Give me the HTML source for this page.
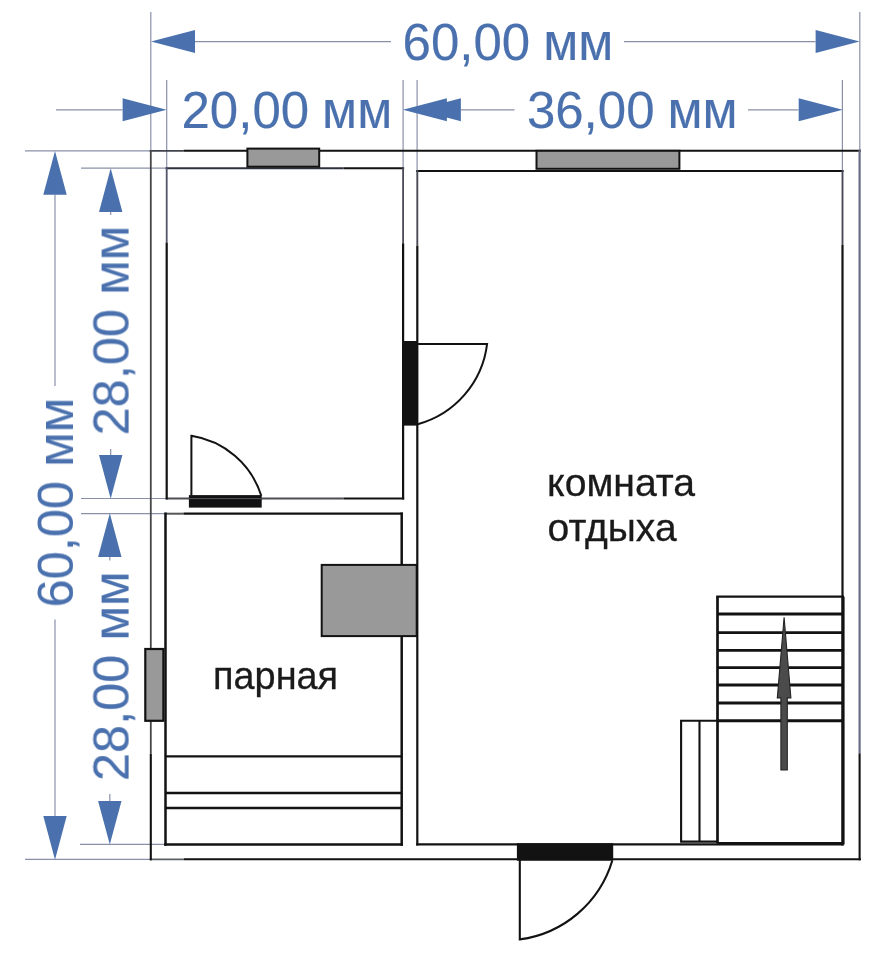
<!DOCTYPE html>
<html lang="ru">
<head>
<meta charset="utf-8">
<title>План бани</title>
<style>
html,body{margin:0;padding:0;background:#ffffff;}
body{width:884px;height:964px;overflow:hidden;}
svg{display:block;font-family:"Liberation Sans",sans-serif;}
text{will-change:transform;}
</style>
</head>
<body>
<svg width="884" height="964" viewBox="0 0 884 964">
<rect x="0" y="0" width="884" height="964" fill="#ffffff"/>
<!-- extension lines -->
<g>
<line x1="150.8" y1="12" x2="150.8" y2="150.8" stroke="#8a90aa" stroke-width="1.2"/>
<line x1="166.7" y1="80" x2="166.7" y2="168.2" stroke="#8a90aa" stroke-width="1.2"/>
<line x1="403.1" y1="80" x2="403.1" y2="168.2" stroke="#8a90aa" stroke-width="1.2"/>
<line x1="417.1" y1="80" x2="417.1" y2="171" stroke="#8a90aa" stroke-width="1.2"/>
<line x1="842.4" y1="80" x2="842.4" y2="171" stroke="#8a90aa" stroke-width="1.2"/>
<line x1="859.8" y1="12" x2="859.8" y2="150.8" stroke="#8a90aa" stroke-width="1.2"/>
<line x1="25" y1="150.8" x2="150.6" y2="150.8" stroke="#8a90aa" stroke-width="1.2"/>
<line x1="81" y1="168.2" x2="166.7" y2="168.2" stroke="#8a90aa" stroke-width="1.2"/>
<line x1="81" y1="498.5" x2="166.7" y2="498.5" stroke="#8a90aa" stroke-width="1.2"/>
<line x1="81" y1="513.7" x2="165.5" y2="513.7" stroke="#8a90aa" stroke-width="1.2"/>
<line x1="80" y1="844.3" x2="165.5" y2="844.3" stroke="#8a90aa" stroke-width="1.2"/>
<line x1="25" y1="859.3" x2="150.6" y2="859.3" stroke="#8a90aa" stroke-width="1.2"/>
</g>
<!-- dimension lines and arrows -->
<g>
<line x1="195" y1="41.55" x2="391" y2="41.55" stroke="#8a90aa" stroke-width="1.2"/>
<line x1="624" y1="41.55" x2="815.5" y2="41.55" stroke="#8a90aa" stroke-width="1.2"/>
<polygon points="151,41.55 195,30 195,53.1" fill="#4a71ae"/>
<polygon points="859.6,41.55 815.6,30 815.6,53.1" fill="#4a71ae"/>
<line x1="56" y1="109.8" x2="122.5" y2="109.8" stroke="#8a90aa" stroke-width="1.2"/>
<polygon points="166.6,109.8 122.6,98.25 122.6,121.35" fill="#4a71ae"/>
<polygon points="402.9,109.8 446.9,98.25 446.9,121.35" fill="#4a71ae"/>
<line x1="461" y1="109.8" x2="514.5" y2="109.8" stroke="#8a90aa" stroke-width="1.2"/>
<line x1="748" y1="109.8" x2="798.5" y2="109.8" stroke="#8a90aa" stroke-width="1.2"/>
<polygon points="416.9,109.8 460.9,98.25 460.9,121.35" fill="#4a71ae"/>
<polygon points="842.7,109.8 798.7,98.25 798.7,121.35" fill="#4a71ae"/>
<line x1="55" y1="194.5" x2="55" y2="386" stroke="#8a90aa" stroke-width="1.2"/>
<line x1="55" y1="619.5" x2="55" y2="816" stroke="#8a90aa" stroke-width="1.2"/>
<polygon points="55,151.1 43.3,194.8 66.7,194.8" fill="#4a71ae"/>
<polygon points="55,859.7 43.3,816 66.7,816" fill="#4a71ae"/>
<line x1="110.7" y1="211.7" x2="110.7" y2="215" stroke="#8a90aa" stroke-width="1.2"/>
<line x1="110.7" y1="449" x2="110.7" y2="456" stroke="#8a90aa" stroke-width="1.2"/>
<polygon points="110.7,168.2 99,211.9 122.4,211.9" fill="#4a71ae"/>
<polygon points="110.7,498.8 99,455.1 122.4,455.1" fill="#4a71ae"/>
<line x1="109.8" y1="557" x2="109.8" y2="560.5" stroke="#8a90aa" stroke-width="1.2"/>
<line x1="109.8" y1="794" x2="109.8" y2="801" stroke="#8a90aa" stroke-width="1.2"/>
<polygon points="109.8,513.3 98.1,557 121.5,557" fill="#4a71ae"/>
<polygon points="109.8,844.6 98.1,800.9 121.5,800.9" fill="#4a71ae"/>
</g>
<!-- walls and benches -->
<g>
<line x1="149.7" y1="150.8" x2="183.5" y2="150.8" stroke="#40424c" stroke-width="1.8"/>
<line x1="183.5" y1="150.8" x2="860.85" y2="150.8" stroke="#121212" stroke-width="2.1"/>
<line x1="149.7" y1="859.3" x2="184" y2="859.3" stroke="#5c6068" stroke-width="1.8"/>
<line x1="184" y1="859.3" x2="860.85" y2="859.3" stroke="#121212" stroke-width="2.1"/>
<line x1="150.8" y1="149.9" x2="150.8" y2="753.8" stroke="#474749" stroke-width="1.8"/>
<line x1="150.8" y1="753.8" x2="150.8" y2="860.35" stroke="#121212" stroke-width="2.1"/>
<line x1="859.6" y1="149.7" x2="859.6" y2="753.3" stroke="#666c86" stroke-width="2.2"/>
<line x1="859.6" y1="753.3" x2="859.6" y2="860.35" stroke="#121212" stroke-width="2.1"/>
<line x1="165.7" y1="168.2" x2="343.6" y2="168.2" stroke="#2e3040" stroke-width="2.0"/>
<line x1="343.6" y1="168.2" x2="404.15" y2="168.2" stroke="#121212" stroke-width="2.1"/>
<line x1="165.8" y1="498.5" x2="343.6" y2="498.5" stroke="#4c4c52" stroke-width="1.8"/>
<line x1="343.6" y1="498.5" x2="404.15" y2="498.5" stroke="#121212" stroke-width="2.1"/>
<line x1="166.7" y1="167.3" x2="166.7" y2="242.5" stroke="#52546a" stroke-width="1.8"/>
<line x1="166.7" y1="242.5" x2="166.7" y2="499.6" stroke="#121212" stroke-width="2.2"/>
<line x1="403.1" y1="167.3" x2="403.1" y2="243.3" stroke="#4a4b55" stroke-width="1.8"/>
<line x1="403.1" y1="243.3" x2="403.1" y2="499.6" stroke="#121212" stroke-width="2.2"/>
<line x1="164.5" y1="513.7" x2="183.5" y2="513.7" stroke="#565659" stroke-width="2.0"/>
<line x1="183.5" y1="513.7" x2="402.85" y2="513.7" stroke="#121212" stroke-width="2.3"/>
<line x1="164.2" y1="844.5" x2="403" y2="844.5" stroke="#121212" stroke-width="2.6"/>
<line x1="165.5" y1="512.45" x2="165.5" y2="845.75" stroke="#121212" stroke-width="2.5"/>
<line x1="401.7" y1="512.45" x2="401.7" y2="845.75" stroke="#121212" stroke-width="2.5"/>
<line x1="165.5" y1="756.3" x2="401.7" y2="756.3" stroke="#121212" stroke-width="2.3"/>
<line x1="165.5" y1="793" x2="401.7" y2="793" stroke="#121212" stroke-width="2.3"/>
<line x1="165.5" y1="808" x2="401.7" y2="808" stroke="#121212" stroke-width="2.3"/>
<line x1="416.2" y1="171" x2="843.6" y2="171" stroke="#121212" stroke-width="2.2"/>
<line x1="416.2" y1="844.3" x2="843.6" y2="844.3" stroke="#121212" stroke-width="2.2"/>
<line x1="417.3" y1="170.05" x2="417.3" y2="245.8" stroke="#4a4b55" stroke-width="1.9"/>
<line x1="417.3" y1="245.8" x2="417.3" y2="845.4" stroke="#121212" stroke-width="2.2"/>
<line x1="842.5" y1="170.05" x2="842.5" y2="245" stroke="#4a4b58" stroke-width="1.9"/>
<line x1="842.5" y1="245" x2="842.5" y2="845.4" stroke="#121212" stroke-width="2.2"/>
</g>
<!-- windows and stove -->
<g>
<rect x="247.4" y="148.6" width="71.8" height="18.1" fill="#999999" stroke="#121212" stroke-width="2.0"/>
<rect x="536.5" y="150.8" width="142.9" height="18" fill="#999999" stroke="#121212" stroke-width="2.0"/>
<rect x="145.3" y="649" width="18.1" height="71.8" fill="#999999" stroke="#121212" stroke-width="2.2"/>
<rect x="321.7" y="564.9" width="95" height="71.2" fill="#999999" stroke="#121212" stroke-width="2.0"/>
</g>
<!-- doors -->
<g>
<rect x="402.2" y="341" width="15.6" height="84.6" fill="#121212"/>
<path d="M417.7 343.9 L487.1 343.9 A95 95 0 0 1 417.7 424.2" fill="none" stroke="#121212" stroke-width="2"/>
<rect x="188.9" y="495.1" width="72.8" height="12.5" fill="#121212"/>
<line x1="188.9" y1="498.6" x2="261.7" y2="498.6" stroke="#55565f" stroke-width="1"/>
<path d="M191.4 495.5 L191.4 435.8 A87.5 87.5 0 0 1 261.3 495.7" fill="none" stroke="#121212" stroke-width="2"/>
<rect x="516.9" y="843.2" width="96.3" height="17.5" fill="#121212"/>
<path d="M519.8 860 L519.8 939.4 A112 112 0 0 0 612.3 860.5" fill="none" stroke="#121212" stroke-width="2.1"/>
</g>
<!-- staircase -->
<g>
<line x1="716.2" y1="596.7" x2="844" y2="596.7" stroke="#121212" stroke-width="2.3"/>
<line x1="717.5" y1="614" x2="843" y2="614" stroke="#121212" stroke-width="2.9"/>
<line x1="717.5" y1="632.6" x2="843" y2="632.6" stroke="#121212" stroke-width="2.9"/>
<line x1="717.5" y1="650.4" x2="843" y2="650.4" stroke="#121212" stroke-width="2.9"/>
<line x1="717.5" y1="667.6" x2="843" y2="667.6" stroke="#121212" stroke-width="2.9"/>
<line x1="717.5" y1="685" x2="843" y2="685" stroke="#121212" stroke-width="2.9"/>
<line x1="717.5" y1="703" x2="843" y2="703" stroke="#121212" stroke-width="2.9"/>
<line x1="717.5" y1="720.8" x2="843" y2="720.8" stroke="#121212" stroke-width="2.9"/>
<line x1="717.5" y1="596.7" x2="717.5" y2="843.5" stroke="#121212" stroke-width="2.7"/>
<line x1="843.1" y1="596.7" x2="843.1" y2="844.5" stroke="#121212" stroke-width="3.0"/>
<line x1="717.5" y1="843.2" x2="843" y2="843.2" stroke="#121212" stroke-width="2.6"/>
<path d="M717.5 720.8 H681.1 V841.6 H717.5 M699.5 720.8 V841.6" fill="none" stroke="#121212" stroke-width="2.1"/>
<path d="M784.1 617.2 L790.9 697.9 L787.3 697.9 L787.3 770 L780.9 770 L780.9 697.9 L777.3 697.9 Z" fill="#4b4b4b" stroke="#242424" stroke-width="1.1" stroke-linejoin="miter" stroke-miterlimit="3"/>
</g>
<!-- labels -->
<g>
<text x="402.6" y="59.6" font-size="51" fill="#4a71ae" stroke="#4a71ae" stroke-width="0.15">60,00<tspan dx="-1.2"> мм</tspan></text>
<text x="181.5" y="128.4" font-size="51" fill="#4a71ae" stroke="#4a71ae" stroke-width="0.15">20,00<tspan dx="-1.2"> мм</tspan></text>
<text x="526.9" y="128.4" font-size="51" fill="#4a71ae" stroke="#4a71ae" stroke-width="0.15">36,00<tspan dx="-1.2"> мм</tspan></text>
<text transform="translate(73.0 607.4) rotate(-90)" font-size="50.5" fill="#4a71ae" stroke="#4a71ae" stroke-width="0.2">60,00<tspan dx="0"> мм</tspan></text>
<text transform="translate(128.6 435.4) rotate(-90)" font-size="50.5" fill="#4a71ae" stroke="#4a71ae" stroke-width="0.2">28,00<tspan dx="0"> мм</tspan></text>
<text transform="translate(128.6 781.1) rotate(-90)" font-size="50.5" fill="#4a71ae" stroke="#4a71ae" stroke-width="0.2">28,00<tspan dx="0"> мм</tspan></text>
<text x="213.1" y="689.3" font-size="39.3" fill="#1a1a1a" stroke="#1a1a1a" stroke-width="0.3" textLength="125.0" lengthAdjust="spacingAndGlyphs">парная</text>
<text x="547.1" y="496.2" font-size="39.3" fill="#1a1a1a" stroke="#1a1a1a" stroke-width="0.3" textLength="148" lengthAdjust="spacingAndGlyphs">комната</text>
<text x="547.6" y="541.1" font-size="39.3" fill="#1a1a1a" stroke="#1a1a1a" stroke-width="0.3" textLength="129" lengthAdjust="spacingAndGlyphs">отдыха</text>
</g>
</svg>
</body>
</html>
